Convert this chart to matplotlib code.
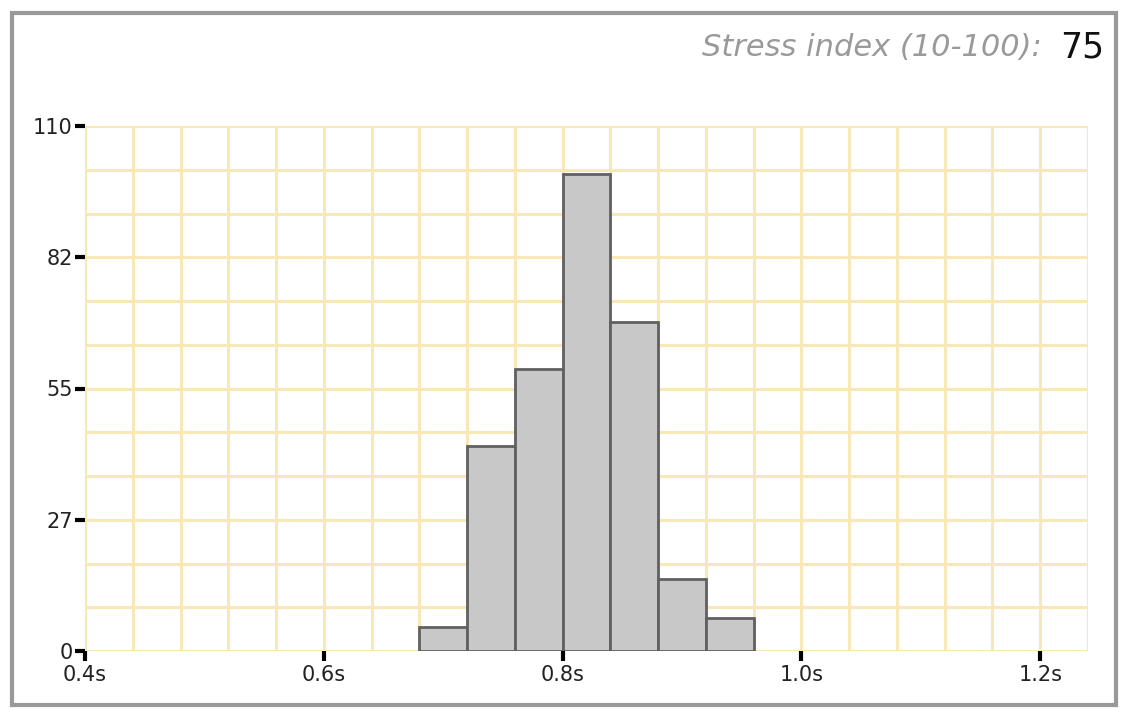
import numpy as np
import matplotlib.pyplot as plt
from matplotlib.patches import Rectangle

# histogram data (RR intervals, seconds)
bin_left = [0.68, 0.72, 0.76, 0.80, 0.84, 0.88, 0.92]
counts = [5, 43, 59, 100, 69, 15, 7]
bin_width = 0.04

y_ticks = [0, 27.5, 55, 82.5, 110]
y_labels = ['0', '27', '55', '82', '110']
x_ticks = [0.4, 0.6, 0.8, 1.0, 1.2]
x_labels = ['0.4s', '0.6s', '0.8s', '1.0s', '1.2s']
stress_index = 75

plt.rcParams['font.family'] = ['DejaVu Sans']

fig = plt.figure(figsize=(11.28, 7.2), dpi=100)
ax = fig.add_axes([85 / 1128, 69 / 720, 1003 / 1128, 525 / 720])

grid_col = '#f8e8b8'
for gx in np.arange(0.4, 1.2401, 0.04):
    ax.axvline(gx, color=grid_col, lw=2.2, zorder=0)
for gy in np.arange(0, 110.01, 110 / 12):
    ax.axhline(gy, color=grid_col, lw=2.2, zorder=0)

ax.bar(bin_left, counts, width=bin_width, align='edge',
       color='#c8c8c8', edgecolor='#606060', linewidth=2, zorder=2)

ax.set_xlim(0.4, 1.24)
ax.set_ylim(0, 110)
for s in ax.spines.values():
    s.set_visible(False)

ax.set_yticks(y_ticks)
ax.set_yticklabels(y_labels)
ax.set_xticks(x_ticks)
ax.set_xticklabels(x_labels)
ax.tick_params(axis='both', length=7, width=3, color='black',
               labelsize=15, labelcolor='#222222')
ax.tick_params(axis='y', pad=2)
ax.tick_params(axis='x', pad=3)

# outer frame
fig.patches.append(Rectangle((12 / 1128, 15 / 720), 1104 / 1128, 692 / 720,
                             transform=fig.transFigure, fill=False,
                             edgecolor='#999999', linewidth=3))

fig.text(1104 / 1128, 1 - 48 / 720, str(stress_index), ha='right', va='center',
         fontsize=25, color='#111111')
fig.text(1042 / 1128, 1 - 48 / 720, 'Stress index (10-100):', ha='right', va='center',
         fontsize=22, color='#9a9a9a', style='italic')

plt.savefig('out.png', dpi=100)
